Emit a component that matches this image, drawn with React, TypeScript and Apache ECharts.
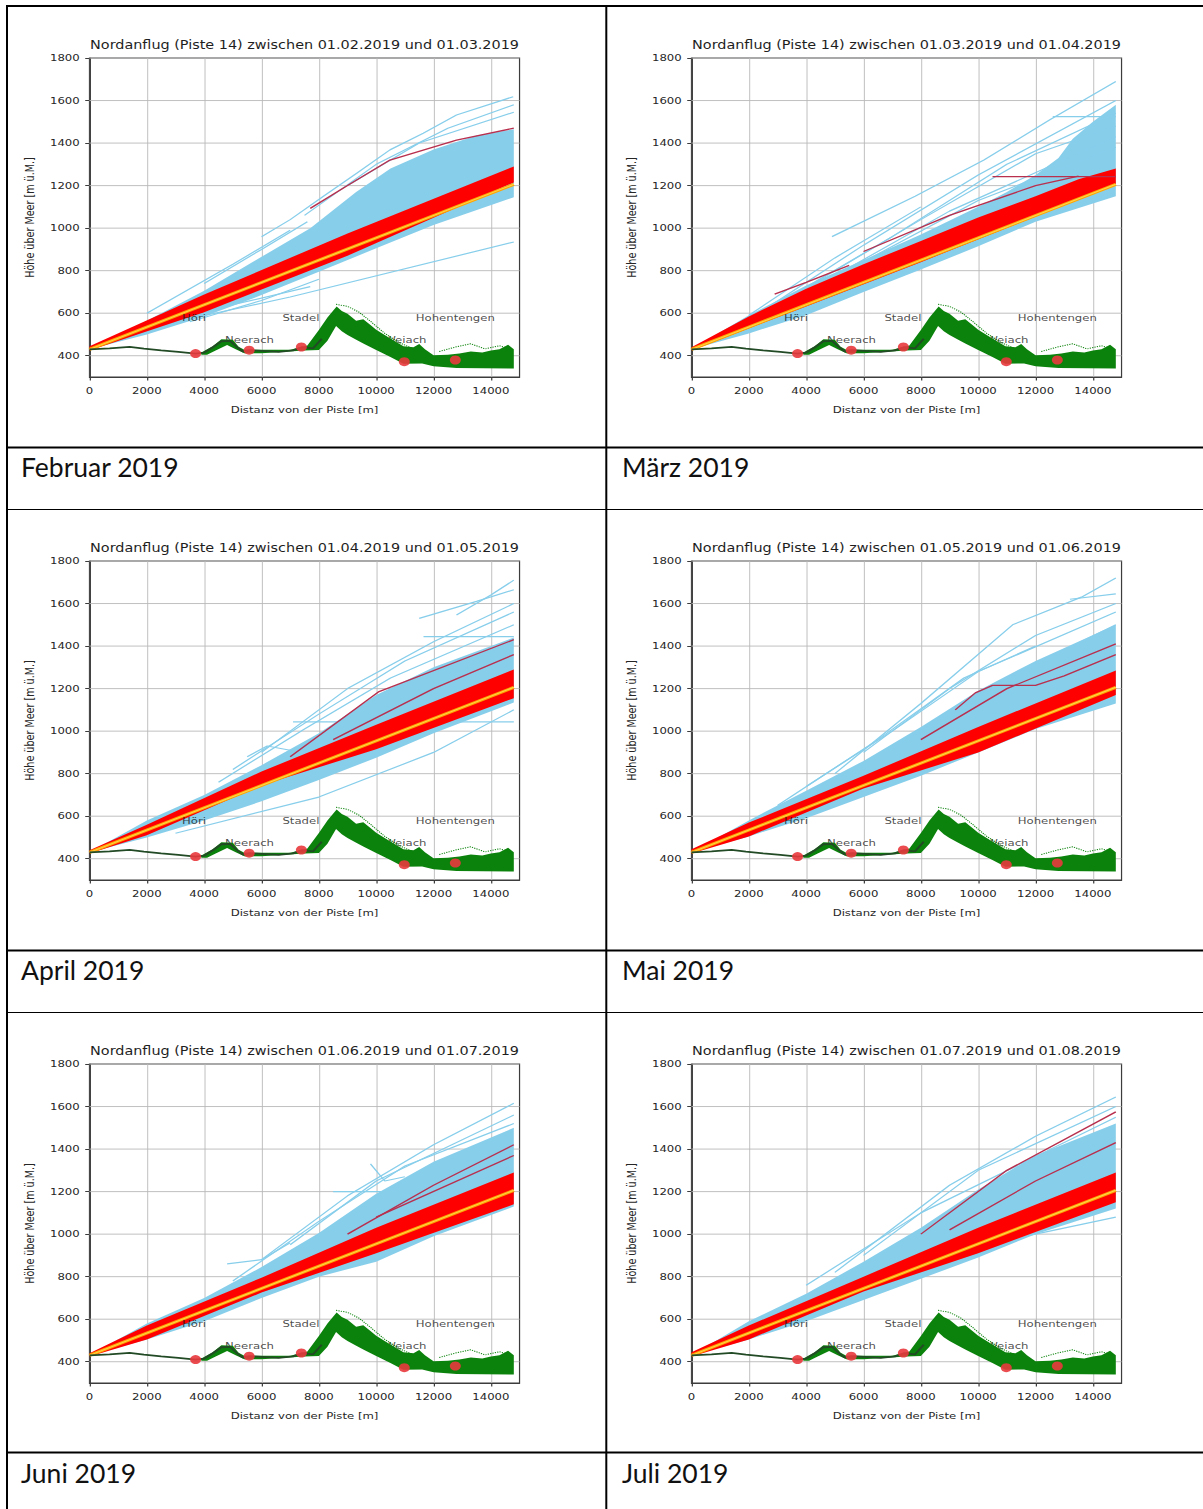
import React, { useEffect, useRef } from "react";
import * as echarts from "echarts";

// ---------------- data ----------------
const MONTH_LABELS = ["Februar 2019", "März 2019", "April 2019", "Mai 2019", "Juni 2019", "Juli 2019"];
const TITLES = [
  "Nordanflug (Piste 14) zwischen 01.02.2019 und 01.03.2019",
  "Nordanflug (Piste 14) zwischen 01.03.2019 und 01.04.2019",
  "Nordanflug (Piste 14) zwischen 01.04.2019 und 01.05.2019",
  "Nordanflug (Piste 14) zwischen 01.05.2019 und 01.06.2019",
  "Nordanflug (Piste 14) zwischen 01.06.2019 und 01.07.2019",
  "Nordanflug (Piste 14) zwischen 01.07.2019 und 01.08.2019",
];
const X_NAME = "Distanz von der Piste [m]";
const Y_NAME = "Höhe über Meer [m ü.M.]";
const X_TICKS = [0, 2000, 4000, 6000, 8000, 10000, 12000, 14000];
const Y_TICKS = [400, 600, 800, 1000, 1200, 1400, 1600, 1800];
const X_RANGE = [0, 15000];
const Y_RANGE = [300, 1800];

const GLIDE_PATH = [[0, 430], [14800, 1206]];

const VILLAGE_NAMES = ["Höri", "Neerach", "Stadel", "Weiach", "Hohentengen"];
const VILLAGE_X = [3700, 5570, 7390, 10980, 12760];
const VILLAGE_Y = [410, 426, 441, 372, 380];
const VILLAGE_LABEL_X = [3250, 4750, 6750, 10300, 11400];
const VILLAGE_LABEL_Y = [575, 472, 575, 472, 575];

const TERRAIN_LINE = [
  [0, 430], [700, 435], [1400, 442], [1900, 433], [2500, 425], [3100, 418], [3700, 410],
  [4000, 415], [4300, 440], [4600, 468], [4900, 470], [5150, 440], [5350, 420], [5600, 426],
  [6600, 418], [7100, 425], [7400, 440], [7800, 435], [8100, 480],
];
const TERRAIN_TOP = [
  [3900, 415], [4300, 445], [4600, 478], [5000, 475], [5200, 442], [5400, 428], [7000, 428],
  [7600, 448], [8000, 521], [8300, 580], [8620, 632], [8800, 610], [9000, 598], [9300, 565],
  [9550, 572], [9800, 545], [10000, 522], [10480, 482], [10950, 445], [11300, 440], [11500, 455],
  [11700, 430], [12000, 402], [12500, 405], [12900, 410], [13300, 420], [13700, 415], [14000, 425],
  [14300, 430], [14600, 452], [14800, 430],
];
const TERRAIN_BOTTOM = [
  [3900, 405], [4100, 405], [4400, 425], [4800, 450], [5100, 430], [5400, 412], [6000, 412],
  [7500, 425], [8000, 427], [8300, 470], [8600, 540], [8800, 515], [9000, 498], [9320, 474],
  [9550, 458], [10000, 427], [10480, 395], [10950, 362], [11600, 364], [12000, 350], [12800, 342],
  [14800, 340],
];
const TERRAIN_STRAY_A = [
  [8600, 642], [9000, 632], [9400, 605], [9800, 562], [10300, 505], [10800, 462], [11300, 432],
];
const TERRAIN_STRAY_B = [
  [12200, 420], [12800, 442], [13300, 456], [13800, 432], [14300, 447], [14700, 430],
];

// Februar
const FEB_BLUE_TOP = [[0, 430], [2000, 565], [4000, 705], [6000, 865], [7700, 1000], [9300, 1170], [10500, 1280], [12000, 1370], [13500, 1435], [14800, 1465]];
const FEB_BLUE_BOTTOM = [[0, 430], [2000, 500], [4000, 585], [6000, 685], [8000, 795], [10000, 905], [12000, 1015], [14800, 1145]];
const FEB_BLUE_LINES = [
  [[6000, 960], [7000, 1040], [8160, 1150], [9320, 1258], [10480, 1368], [11640, 1446], [12800, 1532], [14780, 1618]],
  [[7500, 1060], [10000, 1300], [12500, 1470], [14800, 1580]],
  [[9000, 1200], [11500, 1400], [14800, 1545]],
  [[4000, 740], [6000, 900], [7600, 1030]],
  [[2000, 600], [5000, 830], [7000, 990]],
  [[3000, 560], [7000, 676], [14800, 935]],
  [[2100, 520], [5000, 640], [7700, 725]],
  [[3500, 560], [6000, 660], [8000, 760]],
];
const FEB_RED_TOP = [[0, 445], [4000, 688], [9000, 975], [14800, 1290]];
const FEB_RED_BOTTOM = [[0, 425], [4000, 605], [9000, 870], [14800, 1215]];
const FEB_RED_LINES = [
  [[7700, 1093], [9000, 1200], [10480, 1320], [12800, 1414], [14800, 1470]],
];

// März
const MAR_BLUE_TOP = [[0, 430], [2000, 590], [4000, 730], [6000, 850], [8000, 970], [10000, 1100], [11000, 1170], [12000, 1250], [12800, 1330], [13300, 1420], [14000, 1500], [14800, 1580]];
const MAR_BLUE_BOTTOM = [[0, 430], [2000, 505], [4000, 590], [6000, 700], [8000, 805], [10000, 915], [12000, 1030], [14800, 1150]];
const MAR_BLUE_LINES = [
  [[4900, 960], [7800, 1150], [10200, 1320], [12500, 1510], [14800, 1690]],
  [[12600, 1524], [14800, 1524]],
  [[2800, 640], [6000, 920], [10000, 1250], [14800, 1600]],
  [[3200, 660], [7000, 960], [11000, 1300], [14800, 1540]],
  [[3500, 680], [8000, 1040], [12000, 1350], [14800, 1480]],
  [[4000, 700], [9000, 1080], [14800, 1430]],
  [[5000, 770], [10000, 1130], [14800, 1380]],
  [[2000, 590], [5000, 860], [8000, 1100]],
];
const MAR_RED_TOP = [[0, 440], [2000, 585], [4000, 715], [6000, 830], [8000, 940], [10000, 1050], [12000, 1150], [13500, 1230], [14800, 1280]];
const MAR_RED_BOTTOM = [[0, 425], [4000, 632], [8000, 840], [14800, 1205]];
const MAR_RED_LINES = [
  [[10500, 1242], [14800, 1242]],
  [[2900, 690], [4000, 745], [5500, 825]],
  [[6000, 890], [9000, 1060], [12000, 1200], [13500, 1245]],
];

// April
const APR_BLUE_TOP = [[0, 430], [2000, 580], [4000, 700], [6000, 840], [8000, 990], [10000, 1170], [12000, 1300], [14800, 1440]];
const APR_BLUE_BOTTOM = [[0, 430], [2000, 500], [4000, 580], [6000, 670], [8000, 770], [10000, 875], [12000, 990], [14800, 1135]];
const APR_BLUE_LINES = [
  [[12800, 1546], [14000, 1640], [14800, 1710]],
  [[11500, 1530], [13500, 1610], [14800, 1665]],
  [[6000, 900], [9000, 1200], [12000, 1420], [14800, 1600]],
  [[5000, 820], [8000, 1080], [11000, 1330], [14800, 1560]],
  [[11650, 1444], [14800, 1444]],
  [[7100, 1044], [14800, 1044]],
  [[4500, 760], [7500, 1010], [10500, 1250], [14800, 1500]],
  [[3000, 520], [8000, 690], [12000, 900], [14800, 1100]],
  [[5500, 880], [6200, 930], [7000, 910]],
];
const APR_RED_TOP = [[0, 440], [2000, 560], [6000, 810], [10000, 1030], [14800, 1290]];
const APR_RED_BOTTOM = [[0, 425], [2000, 510], [6000, 745], [10000, 915], [14800, 1155]];
const APR_RED_LINES = [
  [[7000, 880], [10100, 1186], [14800, 1430]],
  [[8500, 960], [12000, 1200], [14800, 1360]],
];

// Mai
const MAY_BLUE_TOP = [[0, 430], [2000, 580], [4000, 720], [6000, 860], [8000, 1020], [10000, 1190], [12000, 1330], [14800, 1500]];
const MAY_BLUE_BOTTOM = [[0, 430], [2000, 505], [4000, 590], [6000, 690], [8000, 790], [10000, 900], [12000, 1010], [14800, 1130]];
const MAY_BLUE_LINES = [
  [[5000, 800], [8000, 1130], [11200, 1500], [13600, 1630], [14800, 1720]],
  [[13200, 1620], [14800, 1645]],
  [[6000, 900], [9000, 1200], [12000, 1450], [14800, 1600]],
  [[4000, 740], [7000, 1000], [10000, 1280], [14800, 1560]],
  [[3000, 650], [6500, 960], [9500, 1250], [12000, 1400]],
  [[7000, 920], [11000, 1250], [14800, 1500]],
];
const MAY_RED_TOP = [[0, 445], [2000, 570], [6000, 790], [10000, 1020], [14800, 1285]];
const MAY_RED_BOTTOM = [[0, 425], [2000, 505], [6000, 730], [10000, 900], [14800, 1170]];
const MAY_RED_LINES = [
  [[9200, 1100], [9900, 1180], [10500, 1215], [12000, 1215], [13000, 1260], [14800, 1360]],
  [[8000, 960], [11000, 1200], [14800, 1410]],
];

// Juni
const JUN_BLUE_TOP = [[0, 430], [2000, 580], [4000, 700], [6000, 845], [8000, 1005], [10000, 1190], [12000, 1340], [14800, 1500]];
const JUN_BLUE_BOTTOM = [[0, 430], [2000, 505], [4000, 590], [6000, 700], [8000, 800], [10000, 870], [12000, 990], [14800, 1130]];
const JUN_BLUE_LINES = [
  [[6000, 880], [9000, 1180], [12000, 1420], [14800, 1615]],
  [[7000, 950], [10000, 1250], [14800, 1560]],
  [[8500, 1200], [11000, 1200]],
  [[9800, 1330], [10300, 1250], [11000, 1270]],
  [[4800, 860], [6000, 880], [7000, 960]],
  [[5000, 780], [8000, 1060], [11000, 1320], [14800, 1520]],
];
const JUN_RED_TOP = [[0, 440], [2000, 570], [6000, 795], [10000, 1030], [14800, 1290]];
const JUN_RED_BOTTOM = [[0, 425], [2000, 505], [6000, 725], [10000, 910], [14800, 1140]];
const JUN_RED_LINES = [
  [[9000, 1000], [12000, 1230], [14800, 1420]],
  [[10000, 1080], [14800, 1370]],
];

// Juli
const JUL_BLUE_TOP = [[0, 430], [2000, 590], [4000, 720], [6000, 870], [8000, 1030], [10000, 1210], [12000, 1370], [14800, 1520]];
const JUL_BLUE_BOTTOM = [[0, 430], [2000, 505], [4000, 590], [6000, 690], [8000, 790], [10000, 890], [12000, 1000], [14800, 1120]];
const JUL_BLUE_LINES = [
  [[5000, 820], [9000, 1230], [12000, 1460], [14800, 1645]],
  [[6000, 900], [10000, 1300], [14800, 1600]],
  [[8000, 900], [12000, 1000], [14800, 1080]],
  [[4000, 760], [8000, 1100], [14800, 1550]],
];
const JUL_RED_TOP = [[0, 445], [2000, 570], [6000, 800], [10000, 1030], [14800, 1290]];
const JUL_RED_BOTTOM = [[0, 425], [2000, 505], [6000, 730], [10000, 910], [14800, 1150]];
const JUL_RED_LINES = [
  [[8000, 1000], [11000, 1300], [14800, 1575]],
  [[9000, 1020], [12000, 1250], [14800, 1430]],
];

const MONTHS = [
  { blueTop: FEB_BLUE_TOP, blueBottom: FEB_BLUE_BOTTOM, blueLines: FEB_BLUE_LINES, redTop: FEB_RED_TOP, redBottom: FEB_RED_BOTTOM, redLines: FEB_RED_LINES },
  { blueTop: MAR_BLUE_TOP, blueBottom: MAR_BLUE_BOTTOM, blueLines: MAR_BLUE_LINES, redTop: MAR_RED_TOP, redBottom: MAR_RED_BOTTOM, redLines: MAR_RED_LINES },
  { blueTop: APR_BLUE_TOP, blueBottom: APR_BLUE_BOTTOM, blueLines: APR_BLUE_LINES, redTop: APR_RED_TOP, redBottom: APR_RED_BOTTOM, redLines: APR_RED_LINES },
  { blueTop: MAY_BLUE_TOP, blueBottom: MAY_BLUE_BOTTOM, blueLines: MAY_BLUE_LINES, redTop: MAY_RED_TOP, redBottom: MAY_RED_BOTTOM, redLines: MAY_RED_LINES },
  { blueTop: JUN_BLUE_TOP, blueBottom: JUN_BLUE_BOTTOM, blueLines: JUN_BLUE_LINES, redTop: JUN_RED_TOP, redBottom: JUN_RED_BOTTOM, redLines: JUN_RED_LINES },
  { blueTop: JUL_BLUE_TOP, blueBottom: JUL_BLUE_BOTTOM, blueLines: JUL_BLUE_LINES, redTop: JUL_RED_TOP, redBottom: JUL_RED_BOTTOM, redLines: JUL_RED_LINES },
];

// ---------------- layout & style ----------------
const PAGE_W = 1203;
const PAGE_H = 1509;
const STRETCH = 1.22; // the embedded figures are stretched horizontally
const CHART_W = 485;
const CHART_H = 440;
const COL_LEFT = [8, 609.5];
const ROW_TOP = [8, 511, 1014];
const GRID_LEFT = 66.8;
const GRID_TOP = 50;
const GRID_W = 352.5;
const GRID_H = 319;
const TITLE_Y = 36.5;
const FONT = "DejaVu Sans";

const C_BLUE = "#87CEEB";
const C_RED = "#FF0000";
const C_DARKRED = "#B8304E";
const C_ORANGE = "#FFA500";
const C_YELLOW = "#FFD24D";
const C_GREEN = "#0B820B";
const C_DARKGREEN = "#224A25";
const C_VILLAGE = "#E8383D";
const C_GRID = "#B8B8B8";
const C_FRAME = "#3C3C3C";
const C_TEXT = "#262626";

const H_LINES = [
  { y: 6, w: 2 }, { y: 447.5, w: 2 }, { y: 509.5, w: 1 },
  { y: 950.5, w: 2 }, { y: 1012.5, w: 1 }, { y: 1452.5, w: 2 },
];
const V_LINES = [{ x: 7, w: 2 }, { x: 606.3, w: 2 }];
const LABEL_POS = [[21, 467], [622, 467], [21, 970], [622, 970], [21, 1473], [622, 1473]];

function polygonSeries(top: number[][], bottom: number[][], color: string, z: number) {
  const pts = top.concat(bottom.slice().reverse());
  return {
    type: "custom",
    coordinateSystem: "cartesian2d",
    silent: true,
    z,
    data: pts,
    renderItem: (params: any, api: any) => {
      if (params.dataIndex !== 0) return null;
      return {
        type: "polygon",
        shape: { points: pts.map((p) => api.coord(p)) },
        style: { fill: color },
      };
    },
  };
}

function lineSeries(pts: number[][], color: string, width: number, z: number, dashed = false) {
  return {
    type: "line",
    data: pts,
    symbol: "none",
    showSymbol: false,
    silent: true,
    z,
    lineStyle: { color, width, type: dashed ? "dotted" : "solid" },
  };
}

function buildOption(i: number) {
  const m = MONTHS[i];
  const series: any[] = [];
  series.push({
    type: "custom",
    coordinateSystem: "cartesian2d",
    silent: true,
    z: 1,
    data: Y_TICKS.map((v) => [X_RANGE[0], v]),
    renderItem: (params: any, api: any) => {
      const cs = params.coordSys;
      const y = api.coord([X_RANGE[0], api.value(1)])[1];
      return {
        type: "line",
        shape: { x1: cs.x, y1: y, x2: cs.x + cs.width, y2: y },
        style: { stroke: C_GRID, lineWidth: 0.8 },
      };
    },
  });
  series.push(polygonSeries(m.blueTop, m.blueBottom, C_BLUE, 2));
  m.blueLines.forEach((l) => series.push(lineSeries(l, C_BLUE, 1.2, 3)));
  series.push(polygonSeries(m.redTop, m.redBottom, C_RED, 4));
  m.redLines.forEach((l) => series.push(lineSeries(l, C_DARKRED, 1.3, 5)));
  series.push(lineSeries(GLIDE_PATH, C_ORANGE, 3, 6));
  series.push(lineSeries(GLIDE_PATH, C_YELLOW, 1, 6));
  series.push({
    type: "scatter",
    silent: true,
    z: 7,
    symbolSize: 1,
    itemStyle: { color: "rgba(0,0,0,0)" },
    data: VILLAGE_LABEL_X.map((x, j) => [x, VILLAGE_LABEL_Y[j]]),
    label: {
      show: true,
      position: [0, 0],
      align: "left",
      verticalAlign: "middle",
      formatter: (p: any) => VILLAGE_NAMES[p.dataIndex],
      fontFamily: FONT,
      fontSize: 9.6,
      color: "#1A1A1A",
    },
  });
  series.push(polygonSeries(TERRAIN_TOP, TERRAIN_BOTTOM, C_GREEN, 8));
  series.push(lineSeries(TERRAIN_LINE, C_DARKGREEN, 1.8, 9));
  series.push(lineSeries(TERRAIN_STRAY_A, C_GREEN, 1, 9, true));
  series.push(lineSeries(TERRAIN_STRAY_B, C_GREEN, 1, 9, true));
  series.push({
    type: "scatter",
    silent: true,
    z: 10,
    symbolSize: 9,
    itemStyle: { color: C_VILLAGE, opacity: 0.9 },
    data: VILLAGE_X.map((x, j) => [x, VILLAGE_Y[j]]),
  });

  const tickFont = { fontFamily: FONT, fontSize: 9.6, color: C_TEXT };
  return {
    animation: false,
    grid: {
      left: GRID_LEFT, top: GRID_TOP, width: GRID_W, height: GRID_H,
      show: true, borderColor: C_FRAME, borderWidth: 1,
    },
    xAxis: {
      type: "value", min: X_RANGE[0], max: X_RANGE[1], interval: 2000,
      name: X_NAME, nameLocation: "middle", nameGap: 28,
      nameTextStyle: { fontFamily: FONT, fontSize: 9.6, color: C_TEXT },
      axisLine: { show: true, onZero: false, lineStyle: { color: C_FRAME, width: 1 } },
      axisTick: { show: true, length: 3.5, lineStyle: { color: C_FRAME }, customValues: X_TICKS },
      axisLabel: {
        ...tickFont, margin: 9, customValues: X_TICKS,
        formatter: (v: number) => (X_TICKS.indexOf(v) >= 0 ? String(v) : ""),
      },
      splitLine: { show: true, lineStyle: { color: C_GRID, width: 0.8 } },
    },
    yAxis: {
      type: "value", min: Y_RANGE[0], max: Y_RANGE[1], interval: 100,
      name: Y_NAME, nameLocation: "middle", nameGap: 31,
      nameTextStyle: { fontFamily: FONT, fontSize: 9.6, color: C_TEXT },
      axisLine: { show: true, onZero: false, lineStyle: { color: C_FRAME, width: 1 } },
      axisTick: { show: true, length: 3.5, lineStyle: { color: C_FRAME }, customValues: Y_TICKS },
      axisLabel: {
        ...tickFont, margin: 8, customValues: Y_TICKS,
        formatter: (v: number) => (Y_TICKS.indexOf(v) >= 0 ? String(v) : ""),
      },
      splitLine: { show: false },
    },
    graphic: [
      {
        type: "text",
        x: GRID_LEFT + GRID_W / 2,
        y: TITLE_Y,
        silent: true,
        style: {
          text: TITLES[i],
          fill: "#1E1E1E",
          font: `11.8px "${FONT}"`,
          align: "center",
          verticalAlign: "middle",
          textAlign: "center",
          textVerticalAlign: "middle",
        },
      },
    ],
    series,
  };
}

function FlightChart({ index }: { index: number }) {
  const ref = useRef<HTMLDivElement>(null);
  useEffect(() => {
    const chart = echarts.init(ref.current as HTMLDivElement, null, { renderer: "svg" });
    chart.setOption(buildOption(index) as any);
    return () => chart.dispose();
  }, [index]);
  const left = COL_LEFT[index % 2];
  const top = ROW_TOP[Math.floor(index / 2)];
  return (
    <div
      ref={ref}
      style={{
        position: "absolute", left, top, width: CHART_W, height: CHART_H,
        transform: `scaleX(${STRETCH})`, transformOrigin: "0 0",
      }}
    />
  );
}

function TableFrame() {
  const ref = useRef<HTMLDivElement>(null);
  useEffect(() => {
    const chart = echarts.init(ref.current as HTMLDivElement, null, { renderer: "svg" });
    const elements: any[] = [];
    H_LINES.forEach((h) =>
      elements.push({
        type: "line", silent: true,
        shape: { x1: 6, y1: h.y, x2: PAGE_W, y2: h.y },
        style: { stroke: "#000", lineWidth: h.w },
      })
    );
    V_LINES.forEach((v) =>
      elements.push({
        type: "line", silent: true,
        shape: { x1: v.x, y1: 5, x2: v.x, y2: PAGE_H },
        style: { stroke: "#000", lineWidth: v.w },
      })
    );
    MONTH_LABELS.forEach((t, j) =>
      elements.push({
        type: "text", silent: true,
        x: LABEL_POS[j][0], y: LABEL_POS[j][1],
        style: {
          text: t, fill: "#111", font: `26.5px Lato`,
          align: "left", verticalAlign: "middle",
          textAlign: "left", textVerticalAlign: "middle",
        },
      })
    );
    chart.setOption({ animation: false, graphic: elements });
    return () => chart.dispose();
  }, []);
  return <div ref={ref} style={{ position: "absolute", left: 0, top: 0, width: PAGE_W, height: PAGE_H }} />;
}

export default function App() {
  return (
    <div style={{ position: "absolute", left: 0, top: 0, width: PAGE_W, height: PAGE_H, overflow: "hidden", background: "#fff" }}>
      <TableFrame />
      {MONTHS.map((_, i) => (
        <FlightChart key={i} index={i} />
      ))}
    </div>
  );
}
